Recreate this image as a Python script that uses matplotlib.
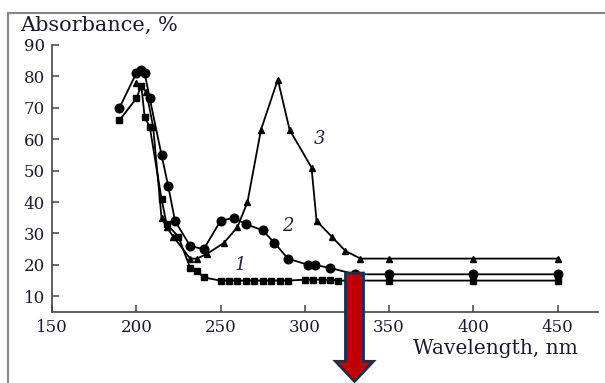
# UV absorbance spectra, curves 1-3
import matplotlib.pyplot as plt
from matplotlib.patches import FancyArrow
from matplotlib.lines import Line2D

# curve 1 (squares)
wl_1 = [190, 200, 203, 205, 208, 215, 218, 225, 232, 236, 240, 250, 255, 260, 265,
        270, 275, 280, 285, 290, 300, 305, 310, 315, 320, 330, 350, 400, 450]
ab_1 = [66, 73, 77, 67, 64, 41, 33, 29, 19, 18, 16, 15, 15, 15, 15,
        15, 15, 15, 15, 15, 15.3, 15.3, 15.3, 15.3, 15, 15, 15, 15, 15]

# curve 2 (circles)
wl_2 = [190, 200, 203, 205, 208, 215, 219, 223, 232, 240, 250, 258, 265, 275, 282,
        290, 302, 306, 315, 330, 350, 400, 450]
ab_2 = [70, 81, 82, 81, 73, 55, 45, 34, 26, 25, 34, 35, 33, 31, 27,
        22, 20, 20, 19, 17, 17, 17, 17]

# curve 3 (triangles)
wl_3 = [200, 203, 206, 210, 215, 218, 222, 232, 236, 242, 252, 260, 266, 274, 284,
        291, 304, 307, 316, 324, 333, 350, 400, 450]
ab_3 = [78, 77, 75, 64, 35, 32, 29, 22, 22, 23.5, 27, 32, 40, 63, 79,
        63, 51, 34, 29, 24.5, 22, 22, 22, 22]

curve_labels = ["1", "2", "3"]
label_x = [262, 290, 309]
label_y = [20, 32.5, 60]

x_ticks = [150, 200, 250, 300, 350, 400, 450]
y_ticks = [10, 20, 30, 40, 50, 60, 70, 80, 90]

fig = plt.figure(figsize=(6.05, 3.83), dpi=100)
ax = fig.add_axes([52 / 605, 1 - 312 / 383, 546 / 605, 267 / 383])

ax.plot(wl_1, ab_1, color="black", lw=1.3, marker="s", ms=4.8)
ax.plot(wl_2, ab_2, color="black", lw=1.3, marker="o", ms=6.2)
ax.plot(wl_3, ab_3, color="black", lw=1.3, marker="^", ms=5)

for t, x, y in zip(curve_labels, label_x, label_y):
    ax.text(x, y, t, fontsize=13, style="italic", family="DejaVu Serif",
            color="#222244", ha="center", va="center")

ax.set_xlim(150, 474)
ax.set_ylim(5, 90)
ax.set_xticks(x_ticks)
ax.set_yticks(y_ticks)
ax.spines["top"].set_visible(False)
ax.spines["right"].set_visible(False)
for s in ["left", "bottom"]:
    ax.spines[s].set_color("#444444")
    ax.spines[s].set_linewidth(1.2)
ax.tick_params(direction="in", length=5, width=1.1, color="#444444",
               labelsize=12, labelcolor="#1a1a2e", pad=5)
for lab in ax.get_xticklabels() + ax.get_yticklabels():
    lab.set_family("DejaVu Serif")

fig.text(20 / 605, 1 - 25 / 383, "Absorbance, %", family="DejaVu Serif",
         fontsize=15, color="#1a1a2e", ha="left", va="center")
fig.text(578 / 605, 1 - 348 / 383, "Wavelength, nm", family="DejaVu Serif",
         fontsize=14.5, color="#1a1a2e", ha="right", va="center")

# red arrow pointing down
arrow = FancyArrow(329.5, 17.4, 0, -34.5, width=10.7, head_width=22.5,
                   head_length=6.4, length_includes_head=True,
                   facecolor="#c00000", edgecolor="#1f2d4d", lw=2, clip_on=False,
                   zorder=5)
ax.add_patch(arrow)

# grey border of the picture
fig.add_artist(Line2D([8 / 605, 1], [1 - 13 / 383, 1 - 13 / 383],
                      color="#888888", lw=1.5, transform=fig.transFigure))
fig.add_artist(Line2D([8 / 605, 8 / 605], [0, 1 - 13 / 383],
                      color="#888888", lw=1.5, transform=fig.transFigure))

fig.savefig("out.png", dpi=100)
